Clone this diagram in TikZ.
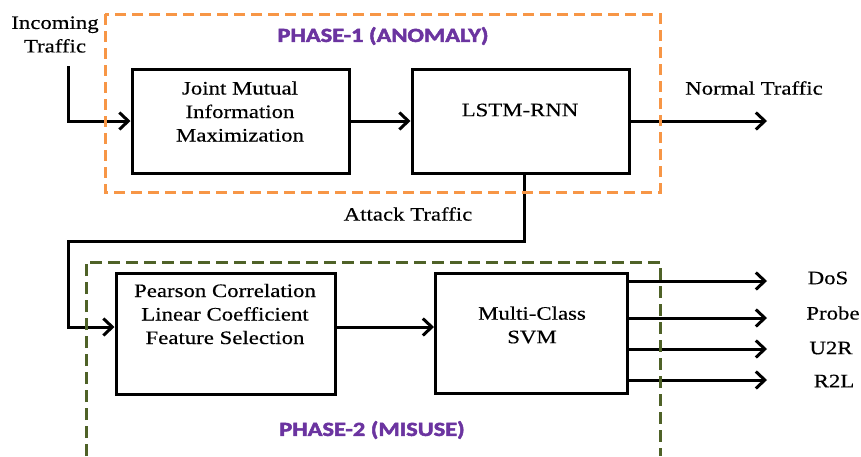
\documentclass[tikz,border=0pt]{standalone}
\usepackage{fontspec}
\setmainfont{Liberation Serif}[FakeStretch=1.2, FakeBold=0.4]
\newfontfamily\phasefont{Carlito Bold}[FakeStretch=1.22, FakeBold=2.5]
\usetikzlibrary{arrows.meta}
\definecolor{phaseorange}{HTML}{F79646}
\definecolor{phasegreen}{HTML}{4F6228}
\definecolor{phasepurple}{HTML}{6B34A0}
\tikzset{
  blockbox/.style={draw=black, line width=3pt, rectangle, inner sep=0pt},
  blocktext/.style={align=center, inner sep=0pt, font=\fontsize{19}{23.5}\selectfont},
  flowtext/.style={align=center, inner sep=0pt, font=\fontsize{19}{23.5}\selectfont},
  flowarrow/.style={line width=3pt, -{Straight Barb[length=9pt,width=17pt]}},
  phasetitle/.style={inner sep=0pt, text=phasepurple, font=\phasefont\fontsize{20}{22}\selectfont},
  orangedash/.style={draw=phaseorange, line width=3pt, dash pattern=on 11pt off 6pt},
  greendash/.style={draw=phasegreen, line width=3pt, dash pattern=on 12pt off 6pt},
}
\begin{document}
\begin{tikzpicture}[x=1pt,y=-1pt]
\path[use as bounding box, fill=white] (0,0) rectangle (861,456);

% processing blocks
\node[blockbox, minimum width=217pt, minimum height=104pt] (jmi)  at (240.5,121) {};
\node[blockbox, minimum width=217pt, minimum height=104pt] (lstm) at (520.5,121) {};
\node[blockbox, minimum width=219pt, minimum height=121pt] (pcc)  at (225.5,333.5) {};
\node[blockbox, minimum width=192pt, minimum height=120pt] (svm)  at (531.5,333) {};

% block captions
\node[blocktext] (jmiT)  at (240,111.5) {Joint Mutual\\Information\\Maximization};
\node[blocktext] (lstmT) at (520,110) {LSTM-RNN};
\node[blocktext] (pccT)  at (225,314) {Pearson Correlation\\Linear Coefficient\\Feature Selection};
\node[blocktext] (svmT)  at (532,325) {Multi-Class\\SVM};

% free ends of the connectors
\coordinate (inTop)   at (68,66);
\coordinate (normEnd) at (767,121);
\coordinate (bendA)   at (68,241);
\coordinate (dosEnd)   at (767,281);
\coordinate (probeEnd) at (767,318);
\coordinate (utrEnd)   at (767,349);
\coordinate (rtlEnd)   at (767,380);

% connectors
\draw[flowarrow] (inTop) |- (jmi.west);
\draw[flowarrow] (jmi.east) -- (lstm.west);
\draw[flowarrow] (lstm.east) -- (normEnd);
\draw[flowarrow] ([xshift=4pt]lstm.south) |- (bendA) |- ([yshift=6.5pt]pcc.west);
\draw[flowarrow] ([yshift=6.5pt]pcc.east) -- ([yshift=6pt]svm.west);
\draw[flowarrow] (svm.east |- dosEnd) -- (dosEnd);
\draw[flowarrow] (svm.east |- probeEnd) -- (probeEnd);
\draw[flowarrow] (svm.east |- utrEnd) -- (utrEnd);
\draw[flowarrow] (svm.east |- rtlEnd) -- (rtlEnd);

% flow labels
\node[flowtext] (inT)     at (55,34.5) {Incoming\\Traffic};
\node[flowtext] (normT)   at (754,88) {Normal Traffic};
\node[flowtext] (attackT) at (408,214) {Attack Traffic};
\node[flowtext] (dosT)    at (828,278) {DoS};
\node[flowtext] (probeT)  at (833,313) {Probe};
\node[flowtext] (utrT)    at (831,348) {U2R};
\node[flowtext] (rtlT)    at (834,381) {R2L};

% phase frames
\draw[orangedash] (105,14) rectangle (660,192);
\draw[greendash] (86,456) -- (86,262) -- (660,262) -- (660,456);

% phase titles
\node[phasetitle] (phaseA) at (383,36) {PHASE-1 (ANOMALY)};
\node[phasetitle] (phaseB) at (372,430) {PHASE-2 (MISUSE)};
\end{tikzpicture}
\end{document}
